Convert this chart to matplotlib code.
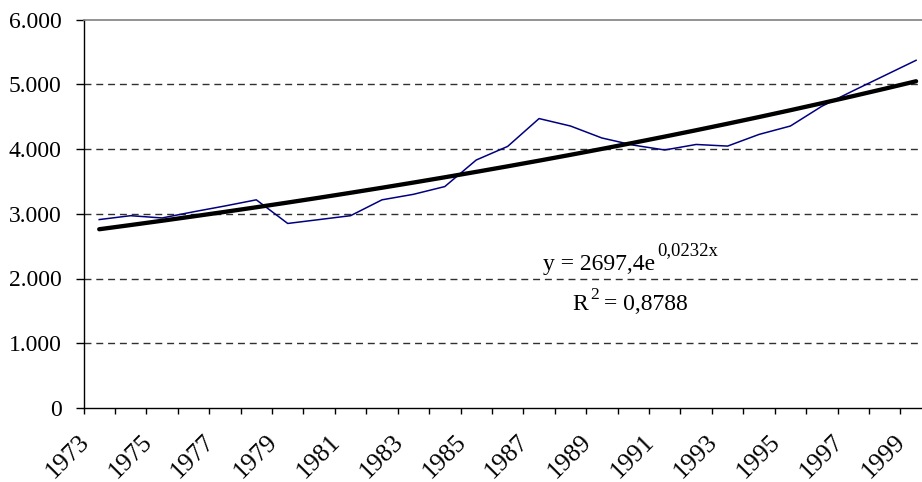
import numpy as np
import matplotlib
matplotlib.use('Agg')
import matplotlib.pyplot as plt
from matplotlib.transforms import ScaledTranslation

years = list(range(1973, 2000))
values = [2910, 2970, 2935, 3030, 3120, 3215, 2850, 2910, 2970, 3215,
          3300, 3420, 3830, 4040, 4470, 4355, 4170, 4060, 3985, 4070,
          4045, 4225, 4355, 4660, 4900, 5135, 5370]
trend_a = 2697.4
trend_b = 0.0232
ytick_vals = [0, 1000, 2000, 3000, 4000, 5000, 6000]
ytick_labels = ['0', '1.000', '2.000', '3.000', '4.000', '5.000', '6.000']
xlabel_years = years[::2]

plt.rcParams['font.family'] = ['Liberation Serif', 'DejaVu Serif']

W, H = 922, 482
fig = plt.figure(figsize=(W / 100, H / 100), dpi=100)
left, right, bottom, top = 83.5, 931.8, 408, 19.5
ax = fig.add_axes([left / W, 1 - bottom / H, (right - left) / W, (bottom - top) / H])

idx = np.arange(len(years))
trend = trend_a * np.exp(trend_b * (idx + 1))

ax.plot(idx, values, color='#000080', lw=1.1, zorder=3)
ax.plot(idx, trend, color='black', lw=3.1, zorder=4, solid_capstyle='round')

ax.set_xlim(-0.5, len(years) - 0.5)
ax.set_ylim(0, 6000)

for v in ytick_vals[1:-1]:
    ax.axhline(v, color='#303030', lw=1.0, ls=(0, (5, 3.5)), zorder=1)

ax.set_yticks(ytick_vals)
ax.set_yticklabels(ytick_labels, fontsize=17)
ax.tick_params(axis='y', direction='out', length=5.8, width=1, pad=10)

ax.set_xticks(np.arange(-0.5, len(years) + 0.5, 1))
ax.set_xticklabels([])
ax.tick_params(axis='x', which='major', direction='out', length=4, width=1)
pos = [years.index(y) for y in xlabel_years]
ax.set_xticks(pos, minor=True)
ax.set_xticklabels([str(y) for y in xlabel_years], minor=True, fontsize=18.5,
                   rotation=45, ha='right', va='top')
ax.tick_params(axis='x', which='minor', length=0, pad=16.5)
offset = ScaledTranslation(-6 / 100, 0, fig.dpi_scale_trans)
for lab in ax.get_xticklabels(minor=True):
    lab.set_transform(lab.get_transform() + offset)

for s in ['left', 'bottom']:
    ax.spines[s].set_color('black')
    ax.spines[s].set_linewidth(1)
ax.spines['top'].set_color('#808080')
ax.spines['top'].set_linewidth(1.2)
ax.spines['right'].set_visible(False)

# equation annotation
def px(x, y):
    return x / W, 1 - y / H

fig.text(*px(655, 270), 'y = 2697,4e', fontsize=17, ha='right', va='baseline')
fig.text(*px(657, 255), '0,0232x', fontsize=13.5, ha='left', va='baseline')
fig.text(*px(572, 310), 'R', fontsize=17, ha='left', va='baseline')
fig.text(*px(590, 299), '2', fontsize=12.5, ha='left', va='baseline')
fig.text(*px(604, 310), '= 0,8788', fontsize=17, ha='left', va='baseline')

fig.savefig('out.png', dpi=100)
